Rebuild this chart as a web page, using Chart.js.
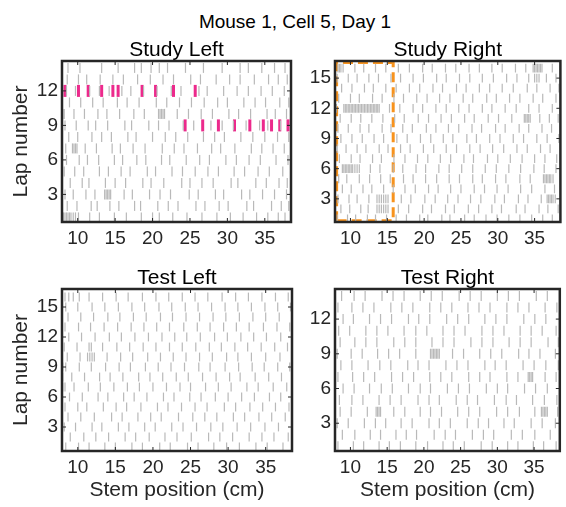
<!DOCTYPE html>
<html>
<head>
<meta charset="utf-8">
<script src="https://cdn.jsdelivr.net/npm/chart.js@4.4.1/dist/chart.umd.min.js"></script>
<style>
  body { margin: 0; background: #fff; }
  #wrap { position: relative; width: 566px; height: 507px; overflow: hidden; }
  canvas { position: absolute; }
  #suptitle { position: absolute; left: 0; top: 12px; width: 590px; text-align: center;
    font: 19px/19px 'Liberation Sans', Arial, sans-serif; color: #000; }
</style>
</head>
<body>
<div id="wrap">
  <div id="suptitle">Mouse 1, Cell 5, Day 1</div>
  <canvas id="studyLeft" width="300" height="216" style="left:0;top:40px"></canvas>
  <canvas id="studyRight" width="286" height="216" style="left:280px;top:40px"></canvas>
  <canvas id="testLeft" width="300" height="239" style="left:0;top:268px"></canvas>
  <canvas id="testRight" width="286" height="239" style="left:280px;top:268px"></canvas>
</div>
<script>
// stem position of every tracking sample, one list per lap (lap 1 first)
const studyLeftLaps = [
  [8.1,8.3,8.5,8.7,8.9,9.1,9.4,9.7,10.1,11.6,12.9,14.9,16.5,18.5,20.0,20.9,22.7,24.6,26.6,28.6,30.4,32.1,33.9,35.4,36.8,37.7],
  [8.6,9.9,11.8,12.6,14.3,15.5,17.6,18.4,20.7,22.1,23.4,25.8,27.0,28.9,30.1,32.6,33.5,35.9,37.2,38.2],
  [8.3,9.4,11.1,12.3,13.6,13.8,14.0,14.2,14.4,16.2,17.3,19.6,21.0,22.4,24.9,26.1,28.4,29.5,31.9,33.0,34.7,36.3,37.9],
  [9.0,10.6,11.5,13.7,15.0,16.4,18.7,19.8,21.5,23.9,25.0,26.6,28.1,30.5,31.4,33.8,35.2,36.9,38.0],
  [8.2,9.6,10.8,12.9,14.1,15.8,17.0,19.3,20.4,22.6,24.0,25.7,27.4,28.8,30.9,32.3,34.1,35.6,37.4],
  [8.5,10.2,11.3,12.8,14.9,16.0,17.9,19.1,21.2,22.3,24.5,26.3,27.6,29.8,31.2,32.9,34.4,36.5,38.1],
  [8.4,9.3,9.5,9.7,9.9,11.0,12.5,14.6,15.7,17.4,19.0,21.3,22.9,24.2,26.0,27.9,29.1,31.0,33.2,34.6,36.1,37.6],
  [8.8,10.0,11.9,13.2,14.5,16.7,17.8,20.0,21.7,23.1,24.7,26.8,28.3,29.6,31.8,33.4,35.0,36.7,38.2],
  [8.3,9.8,11.4,12.4,14.0,16.3,17.2,19.5,20.8,22.2,24.1,25.5,27.8,29.3,30.8,32.5,34.3,35.4,37.1],
  [8.0,8.2,9.5,10.9,12.7,13.9,15.6,17.5,18.9,20.8,21.0,21.2,21.4,21.6,23.3,24.8,26.5,28.0,30.2,31.5,33.1,35.3,36.4,37.9],
  [8.9,10.4,12.0,13.4,15.3,16.6,18.2,20.5,21.9,23.6,25.2,26.9,28.7,30.0,32.2,33.7,35.1,37.0,38.2],
  [8.5,9.7,11.6,12.9,14.2,15.9,17.1,18.8,20.6,22.5,23.8,26.2,27.3,29.5,31.3,32.8,34.5,36.0,37.6],
  [8.6,10.1,11.2,13.0,14.7,16.1,18.0,19.7,21.4,22.8,25.1,26.4,28.5,30.3,31.7,33.6,35.5,36.8,38.0],
  [8.7,10.3,13.2,15.4,17.6,18.5,19.8,20.9,22.0,24.4,26.8,29.3,31.7,32.8,34.6,36.3,37.7]
];
const studyRightLaps = [
  [8.2,9.6,10.7,12.3,13.4,14.9,16.2,17.6,19.4,20.5,22.4,23.5,25.5,26.8,28.4,29.9,31.5,33.0,34.6,36.1,37.4],
  [8.7,9.9,11.4,12.4,13.6,13.9,14.2,14.5,14.8,15.1,16.5,17.9,19.8,21.0,22.9,24.1,26.0,27.4,29.2,30.5,32.5,33.7,35.6,36.8,38.2],
  [8.3,9.8,10.9,12.5,13.6,13.9,14.2,14.5,14.8,15.1,16.9,18.2,20.1,21.5,23.2,24.6,26.3,27.7,29.6,30.9,32.8,34.1,35.9,36.7,36.9,37.1,37.3,37.5,37.8],
  [8.9,10.1,11.7,12.9,14.5,15.8,17.4,18.8,20.6,21.9,23.6,25.0,26.8,28.2,29.9,31.4,33.1,34.6,36.4,37.7],
  [8.4,9.5,11.2,12.6,14.1,15.4,17.2,18.5,20.2,21.7,23.4,24.8,26.6,27.9,29.7,31.1,33.0,34.4,36.2,36.4,36.6,36.8,37.0,37.2,37.5],
  [8.9,9.1,9.3,9.5,9.7,9.9,10.1,10.3,10.6,10.9,11.2,12.7,14.0,15.8,17.1,18.9,20.2,22.0,23.4,25.1,26.6,28.3,29.8,31.5,33.1,34.9,36.3,37.9],
  [8.5,10.1,11.3,13.0,14.2,15.9,17.4,19.1,20.5,22.2,23.6,25.4,26.7,28.6,30.0,31.7,33.3,35.0,36.4,38.0],
  [8.2,9.4,10.9,12.1,13.9,15.1,16.8,18.1,19.9,21.3,23.0,24.4,26.2,27.6,29.3,30.8,32.6,34.0,35.8,37.1],
  [8.7,10.2,11.6,13.2,14.5,16.3,17.7,19.5,20.9,22.6,23.9,25.8,27.1,28.9,30.3,32.1,33.5,35.3,36.7,38.3],
  [8.3,9.7,11.3,12.5,14.3,15.5,17.1,18.4,20.3,21.6,23.3,24.7,26.5,27.8,29.7,31.0,32.9,34.2,36.0,37.3],
  [8.6,10.1,11.4,12.9,14.4,16.0,17.3,19.2,20.6,22.3,23.7,25.5,26.8,28.7,30.1,31.9,33.6,33.8,34.0,34.2,34.4,35.7,37.0,38.2],
  [8.1,9.1,9.3,9.5,9.7,9.9,10.1,10.3,10.5,10.7,10.9,11.1,11.3,11.5,11.7,11.9,12.1,12.3,12.5,12.7,12.9,13.1,13.3,13.5,13.7,13.9,15.3,16.7,18.5,19.8,21.6,23.0,24.7,26.1,27.9,29.2,31.0,32.5,34.2,35.6,37.4],
  [8.4,10.0,11.2,13.0,14.3,15.9,17.2,19.0,20.4,22.1,23.5,25.3,26.6,28.5,29.8,31.6,33.0,34.8,36.1,37.9],
  [8.8,10.2,11.9,13.1,14.8,16.2,18.0,19.4,21.2,22.5,24.4,25.7,27.5,28.9,30.6,32.1,34.0,35.3,37.1,38.3],
  [8.2,9.7,10.9,12.5,13.8,15.5,16.8,18.5,19.9,21.7,23.0,24.8,26.2,27.9,29.4,31.2,32.6,34.2,35.0,35.3,35.6,36.6,37.9],
  [8.3,8.5,8.7,9.0,10.6,11.8,13.4,14.8,16.5,18.0,19.8,21.1,22.9,24.3,26.1,27.5,29.2,30.6,32.4,33.8,34.8,35.0,35.2,35.4,35.6,35.8,36.0,37.4]
];
const testLeftLaps = [
  [8.4,10.1,11.5,13.6,15.0,17.2,18.6,20.9,22.3,24.6,26.0,28.1,29.8,31.5,33.7,35.2,37.3],
  [9.0,10.8,12.4,14.1,16.3,17.7,19.5,21.6,23.2,25.1,27.4,28.9,30.6,32.8,34.5,36.1,38.0],
  [8.2,9.7,11.9,13.2,15.4,16.8,18.9,20.3,22.5,24.0,25.8,27.7,29.3,31.2,33.0,34.9,36.7],
  [8.7,10.4,12.2,14.5,15.9,18.0,19.7,21.1,23.4,25.3,26.9,28.5,30.7,32.2,34.1,35.8,37.6],
  [8.3,10.0,11.2,13.4,15.1,16.5,18.4,20.6,22.0,23.8,25.6,27.2,29.5,31.0,32.9,34.6,36.3,38.1],
  [8.9,10.6,12.7,14.0,16.1,17.5,19.2,21.4,22.8,24.9,26.4,28.3,30.0,31.8,33.5,35.5,37.0],
  [8.0,8.3,9.5,11.4,13.0,14.8,16.6,18.2,20.0,21.8,23.6,25.0,27.0,28.7,30.4,32.5,34.0,36.0,37.8],
  [8.0,9.2,10.9,12.9,14.3,16.0,18.1,19.6,21.3,23.1,24.7,26.6,28.4,30.2,31.6,33.6,35.4,37.1],
  [8.0,8.4,10.2,11.8,13.7,15.5,17.0,19.0,20.7,22.4,24.2,26.1,27.6,29.6,31.4,33.2,34.8,36.6,38.2],
  [8.6,10.3,11.3,11.6,11.9,12.2,13.9,15.7,17.3,19.3,21.0,22.7,24.4,26.2,27.9,29.8,31.3,33.1,35.0,36.9],
  [8.2,9.9,11.5,11.8,13.3,15.2,16.9,18.7,20.4,22.2,23.9,25.7,27.5,29.1,30.9,32.6,34.4,36.2,37.9],
  [8.8,10.5,12.3,14.2,15.8,17.6,19.4,21.2,22.9,24.5,26.3,28.2,29.9,31.7,33.4,35.1,37.0],
  [8.3,10.1,11.7,13.5,15.3,17.1,18.8,20.5,22.2,24.1,25.9,27.6,29.4,31.1,32.8,34.7,36.5,38.2],
  [8.7,10.4,12.1,14.0,15.6,17.4,19.1,21.0,22.6,24.4,26.2,28.0,29.7,31.5,33.3,35.0,36.8],
  [8.4,10.0,11.9,13.6,15.4,17.2,18.9,20.8,22.5,24.3,26.0,27.8,29.6,31.3,33.1,34.9,36.6,38.3],
  [8.3,8.8,9.4,10.2,11.5,13.3,15.1,16.7,18.6,20.4,22.1,23.9,25.6,27.3,29.2,31.0,32.7,34.5,36.3,38.0]
];
const testRightLaps = [
  [8.3,10.4,11.8,13.9,15.3,16.8,18.9,20.5,22.6,24.0,25.5,27.8,29.3,31.4,32.8,34.9,36.3,38.0],
  [8.9,10.6,12.7,14.1,16.2,17.6,19.0,21.4,22.9,24.3,26.6,28.1,29.5,31.9,33.4,35.1,37.2],
  [8.2,9.7,11.9,13.4,14.8,16.9,18.4,20.7,22.1,23.6,25.9,27.4,28.8,30.9,32.3,34.6,36.1,37.9],
  [8.6,10.1,12.3,13.5,13.7,13.9,14.1,15.9,17.4,19.5,20.9,22.4,24.6,26.1,27.6,29.9,31.4,33.0,35.1,36.0,36.2,36.4,36.6,36.8,38.2],
  [8.5,10.2,11.7,13.9,15.4,16.9,19.2,20.7,22.1,24.4,25.9,27.3,29.6,31.2,32.6,34.8,36.4,38.1],
  [9.0,10.5,12.6,14.2,15.7,17.9,19.5,20.9,23.2,24.7,26.2,28.5,30.0,31.4,33.7,35.2,36.8],
  [8.3,10.3,11.8,13.3,15.6,17.1,18.6,20.8,22.3,23.8,26.1,27.6,29.0,31.3,32.8,34.2,34.4,34.6,34.8,36.5,38.0],
  [8.7,10.2,12.4,14.0,15.5,17.8,19.2,20.7,23.0,24.5,26.0,28.3,29.7,31.2,33.5,35.0,36.6,38.3],
  [8.2,10.1,11.6,13.7,15.2,16.7,18.9,20.9,21.1,21.3,21.5,21.7,21.9,22.1,23.9,25.4,27.6,29.1,30.6,32.9,34.3,35.8,37.9],
  [8.6,10.6,12.1,13.6,15.9,17.4,18.9,21.1,22.6,24.1,26.4,27.9,29.4,31.6,33.1,34.6,36.9,38.3],
  [8.4,9.9,12.1,13.6,15.1,17.3,18.9,20.4,22.6,24.1,25.6,27.9,29.4,30.9,33.1,34.6,36.1,38.0],
  [9.0,10.4,12.6,14.1,15.6,17.9,19.3,20.8,23.1,24.6,26.1,28.3,29.8,31.3,33.6,35.1,36.6],
  [8.3,10.2,11.7,13.2,15.5,17.0,18.5,20.8,22.3,23.8,26.0,27.5,29.0,31.3,32.8,34.3,36.5,38.1],
  [8.8,10.5,12.0,14.3,15.8,17.3,19.5,21.0,22.5,24.8,26.3,27.8,30.0,31.5,33.0,35.3,36.8]
];

// spikes (Study Left only)
const spikeLapA = 12;
const spikeXA = [8.3, 10.1, 11.4, 13.2, 14.7, 15.4, 18.6, 20.4, 22.8, 25.7];
const spikeLapB = 9;
const spikeXB = [24.35, 26.7, 28.8, 30.95, 33.0, 34.8, 35.9, 37.0, 38.1];

// dashed region on Study Right
const boxX = [8.12, 15.8, 15.8, 8.12, 8.12];
const boxY = [0.83, 0.83, 16.55, 16.55, 0.83];

const xTicks = [10, 15, 20, 25, 30, 35];
const yTicksShort = [3, 6, 9, 12];
const yTicksLong = [3, 6, 9, 12, 15];

const FONT = "'Liberation Sans', Arial, Helvetica, sans-serif";
const INK = '#262626';
const GREY = '#b9b9b9';

const frame = {
  id: 'frame',
  afterDatasetsDraw(chart) {
    const {ctx, chartArea: a, scales: {x, y}} = chart;
    ctx.save();
    ctx.strokeStyle = INK;
    ctx.lineWidth = 1;
    ctx.beginPath();
    x.ticks.forEach(t => {
      const px = x.getPixelForValue(t.value);
      ctx.moveTo(px, a.bottom); ctx.lineTo(px, a.bottom - 4);
      ctx.moveTo(px, a.top); ctx.lineTo(px, a.top + 4);
    });
    y.ticks.forEach(t => {
      const py = y.getPixelForValue(t.value);
      ctx.moveTo(a.left, py); ctx.lineTo(a.left + 4, py);
      ctx.moveTo(a.right, py); ctx.lineTo(a.right - 4, py);
    });
    ctx.stroke();
    ctx.lineWidth = 2.5;
    ctx.strokeRect(a.left, a.top, a.right - a.left, a.bottom - a.top);
    ctx.restore();
  }
};

function toPoints(laps) {
  const pts = [];
  laps.forEach((row, i) => row.forEach(v => pts.push({x: v, y: i + 1})));
  return pts;
}

function panel(id, laps, o) {
  const datasets = [{
    data: toPoints(laps),
    pointStyle: 'line', pointRotation: 90, pointRadius: o.tick,
    pointBorderColor: GREY, pointBackgroundColor: GREY, pointBorderWidth: 1.2
  }].concat(o.extra || []);

  new Chart(document.getElementById(id), {
    type: 'scatter',
    data: { datasets },
    options: {
      responsive: false,
      animation: false,
      events: [],
      layout: { padding: { left: 0, right: o.padRight, top: 0, bottom: 0 } },
      plugins: {
        legend: { display: false },
        tooltip: { enabled: false },
        title: {
          display: true, text: o.title, fullSize: false, color: '#000',
          font: { family: FONT, size: 21, weight: 'normal', lineHeight: 1 }, padding: 0
        }
      },
      scales: {
        x: {
          type: 'linear', min: 7.9, max: 38.5,
          afterBuildTicks: s => { s.ticks = xTicks.map(v => ({value: v})); },
          afterFit: s => { s.height = o.xh; },
          grid: { display: false, drawTicks: false },
          border: { display: false },
          ticks: { font: { family: FONT, size: 19 }, color: INK, padding: 5, maxRotation: 0 },
          title: {
            display: !!o.xTitle, text: 'Stem position (cm)', color: INK,
            font: { family: FONT, size: 21, lineHeight: 1 }, padding: { top: 0, bottom: 6 }
          }
        },
        y: {
          type: 'linear', min: o.yMin, max: o.yMax,
          afterBuildTicks: s => { s.ticks = o.yTicks.map(v => ({value: v})); },
          afterFit: s => { s.width = o.yw; },
          grid: { display: false, drawTicks: false },
          border: { display: false },
          ticks: { font: { family: FONT, size: 19 }, color: INK, padding: 4 },
          title: {
            display: !!o.yTitle, text: 'Lap number', color: INK,
            font: { family: FONT, size: 21, lineHeight: 1 }, padding: { top: 11, bottom: 0 }
          }
        }
      }
    },
    plugins: [frame]
  });
}

panel('studyLeft', studyLeftLaps, {
  title: 'Study Left', yMin: 0.6, yMax: 14.6, yTicks: yTicksShort, tick: 5,
  yw: 62, xh: 34, padRight: 8, yTitle: true,
  extra: [
    { data: spikeXA.map(v => ({x: v, y: spikeLapA})), pointStyle: 'line', pointRotation: 90,
      pointRadius: 6, pointBorderWidth: 3, pointBorderColor: '#ec2a8c', pointBackgroundColor: '#ec2a8c' },
    { data: spikeXB.map(v => ({x: v, y: spikeLapB})), pointStyle: 'line', pointRotation: 90,
      pointRadius: 6, pointBorderWidth: 3, pointBorderColor: '#ec2a8c', pointBackgroundColor: '#ec2a8c' }
  ]
});

panel('studyRight', studyRightLaps, {
  title: 'Study Right', yMin: 0.7, yMax: 16.7, yTicks: yTicksLong, tick: 4.4,
  yw: 55, xh: 34, padRight: 0,
  extra: [
    { data: boxX.map((v, i) => ({x: v, y: boxY[i]})), showLine: true, pointRadius: 0,
      borderColor: '#f7931e', borderWidth: 3, borderDash: [10, 5], fill: false }
  ]
});

panel('testLeft', testLeftLaps, {
  title: 'Test Left', yMin: 0.6, yMax: 16.8, yTicks: yTicksLong, tick: 4.4,
  yw: 62, xh: 56, padRight: 8, yTitle: true, xTitle: true
});

panel('testRight', testRightLaps, {
  title: 'Test Right', yMin: 0.6, yMax: 14.6, yTicks: yTicksShort, tick: 5,
  yw: 55, xh: 56, padRight: 0, xTitle: true
});
</script>
</body>
</html>
